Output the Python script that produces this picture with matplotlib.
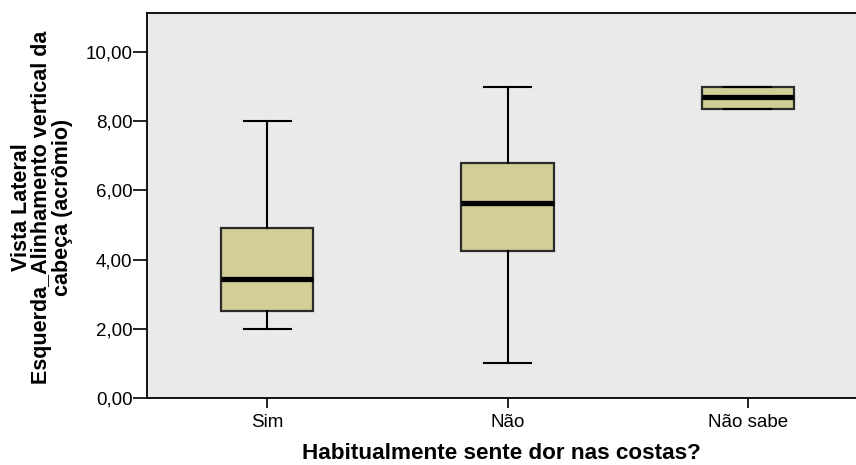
import matplotlib
matplotlib.use("Agg")
import matplotlib.pyplot as plt
from matplotlib.ticker import FuncFormatter

plt.rcParams['font.family'] = ['Liberation Sans', 'DejaVu Sans']

# Summary statistics per answer group
categories = ["Sim", "Não", "Não sabe"]
whisker_low = [2.0, 1.0, 8.35]
q1 = [2.5, 4.25, 8.35]
median = [3.43, 5.63, 8.7]
q3 = [4.92, 6.8, 9.0]
whisker_high = [8.0, 9.0, 9.0]

y_label = "Vista Lateral\nEsquerda_Alinhamento vertical da\ncabeça (acrômio)"
x_label = "Habitualmente sente dor nas costas?"

stats = []
for name, lo, a, m, b, hi in zip(categories, whisker_low, q1, median, q3, whisker_high):
    stats.append({"label": name, "whislo": lo, "q1": a, "med": m, "q3": b,
                  "whishi": hi, "fliers": []})

fig = plt.figure(figsize=(8.56, 4.65), dpi=100)
ax = fig.add_axes([147 / 856, (465 - 397.7) / 465, 1 - 147 / 856, (397.7 - 13.3) / 465])
ax.set_facecolor("#EAEAEA")

positions = list(range(1, len(categories) + 1))
ax.bxp(stats, positions=positions, widths=0.383, patch_artist=True,
       showfliers=False,
       boxprops=dict(facecolor="#D3CD97", edgecolor="#2b2b2b", linewidth=1.6),
       medianprops=dict(color="black", linewidth=3.8, solid_capstyle="butt"),
       whiskerprops=dict(color="black", linewidth=1.5),
       capprops=dict(color="black", linewidth=1.5),
       capwidths=0.196)

ax.set_xlim(0.5, 3.45)
ax.set_ylim(0, 11.13)
ax.set_yticks([0, 2, 4, 6, 8, 10])
ax.yaxis.set_major_formatter(FuncFormatter(lambda v, p: f"{v:.2f}".replace(".", ",")))
ax.set_xticks(positions)
ax.set_xticklabels(categories)

for side in ("left", "bottom", "top"):
    ax.spines[side].set_color("black")
    ax.spines[side].set_linewidth(1.3)
ax.spines["right"].set_visible(False)

ax.tick_params(axis="y", length=10, width=1.2, pad=0.5, labelsize=13.5, colors="black")
ax.tick_params(axis="x", length=7, width=1.2, pad=5, labelsize=13.5, colors="black")

ax.set_xlabel(x_label, fontsize=16.2, fontweight="bold", labelpad=8.5)
ax.set_ylabel(y_label, fontsize=15.5, fontweight="bold", linespacing=0.95,
              ha="center", va="center", multialignment="center")
ax.yaxis.set_label_coords((42 - 147) / (856 - 147), 0.495)

fig.savefig("out.png", dpi=100)
